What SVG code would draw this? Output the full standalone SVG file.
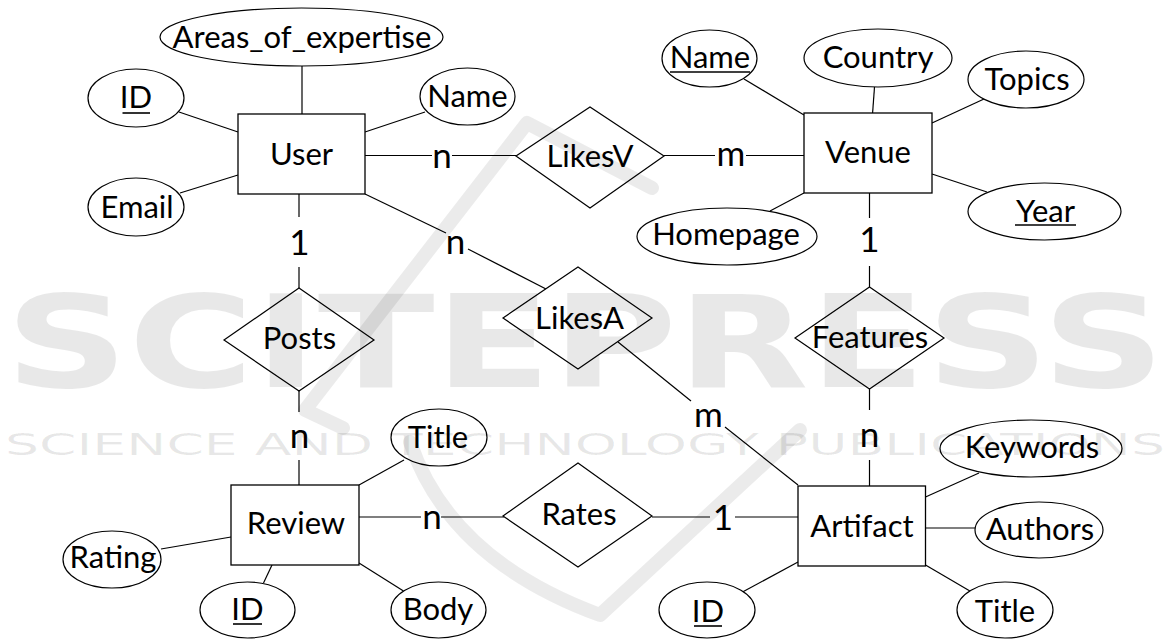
<svg xmlns="http://www.w3.org/2000/svg" width="1169" height="640" viewBox="0 0 1169 640">
  <style>
    .ent { fill: #fff; stroke: #000; stroke-width: 1.3; }
    .att { fill: #fff; stroke: #000; stroke-width: 1.2; }
    .rel { fill: #fff; stroke: #000; stroke-width: 1.2; }
    .lbl { font-family: Lato, "Liberation Sans", sans-serif; font-size: 31px; fill: #000; text-anchor: middle; }
    .card { font-family: Lato, "Liberation Sans", sans-serif; font-size: 35px; fill: #000; text-anchor: middle; }
    .wire { stroke: #000; stroke-width: 1.2; fill: none; }
    .key { stroke: #000; stroke-width: 1.6; }
    .wm { fill: #000; fill-opacity: 0.09; }
    .wmline { fill: none; stroke: #000; stroke-opacity: 0.08; stroke-linecap: round; stroke-linejoin: round; }
  </style>

  <rect width="1169" height="640" fill="#fff"/>

  <!-- connectors -->
  <g id="connectors" class="wire">
    <!-- User attributes -->
    <line x1="302" y1="66" x2="302" y2="114"/>
    <line x1="179" y1="112" x2="238" y2="132"/>
    <line x1="365" y1="132" x2="425" y2="112"/>
    <line x1="238" y1="175" x2="180" y2="193"/>
    <!-- User - LikesV - Venue -->
    <line x1="365" y1="155.5" x2="432" y2="155.5"/>
    <line x1="452" y1="155.5" x2="516" y2="155.5"/>
    <line x1="664" y1="155.5" x2="715" y2="155.5"/>
    <line x1="746" y1="155.5" x2="804" y2="155.5"/>
    <!-- User - Posts - Review -->
    <line x1="299" y1="194" x2="299" y2="217"/>
    <line x1="299" y1="267" x2="299" y2="288"/>
    <line x1="299" y1="391" x2="299" y2="412"/>
    <line x1="299" y1="460" x2="299" y2="485"/>
    <!-- User - LikesA - Artifact -->
    <line x1="365" y1="194" x2="446" y2="233"/>
    <line x1="468" y1="249" x2="546" y2="289"/>
    <line x1="618" y1="342" x2="691" y2="401"/>
    <line x1="725" y1="427" x2="798" y2="485"/>
    <!-- Venue attributes -->
    <line x1="744" y1="79" x2="804" y2="115"/>
    <line x1="874.5" y1="87" x2="872.6" y2="113"/>
    <line x1="932" y1="123" x2="984" y2="99"/>
    <line x1="932" y1="174" x2="987" y2="192"/>
    <line x1="804" y1="193" x2="770" y2="211"/>
    <!-- Venue - Features - Artifact -->
    <line x1="869.5" y1="193" x2="869.5" y2="218"/>
    <line x1="869.5" y1="266" x2="869.5" y2="287"/>
    <line x1="869.5" y1="389" x2="869.5" y2="410"/>
    <line x1="869.5" y1="460" x2="869.5" y2="486"/>
    <!-- Review attributes -->
    <line x1="359" y1="485" x2="404" y2="460"/>
    <line x1="161" y1="549" x2="231" y2="537"/>
    <line x1="272" y1="565" x2="263.5" y2="583"/>
    <line x1="359" y1="563" x2="403.5" y2="591"/>
    <!-- Review - Rates - Artifact -->
    <line x1="359" y1="517" x2="421" y2="517"/>
    <line x1="441" y1="517" x2="504" y2="517"/>
    <line x1="652" y1="517" x2="710" y2="517"/>
    <line x1="735" y1="517" x2="798" y2="517"/>
    <!-- Artifact attributes -->
    <line x1="925.5" y1="497" x2="979" y2="473"/>
    <line x1="925.5" y1="528" x2="975.5" y2="528"/>
    <line x1="925.5" y1="565" x2="971.6" y2="592"/>
    <line x1="798" y1="562" x2="742.5" y2="592"/>
  </g>

  <!-- cardinalities -->
  <g id="cardinalities">
    <text class="card" x="442" y="168">n</text>
    <text class="card" x="731" y="166">m</text>
    <text class="card" x="299.5" y="255">1</text>
    <text class="card" x="455.5" y="254">n</text>
    <text class="card" x="869.5" y="252">1</text>
    <text class="card" x="299.5" y="448">n</text>
    <text class="card" x="708.5" y="427">m</text>
    <text class="card" x="869.5" y="447">n</text>
    <text class="card" x="432" y="529">n</text>
    <text class="card" x="723" y="530">1</text>
  </g>

  <!-- entities -->
  <g id="user">
    <rect class="ent" x="238" y="114" width="127" height="80"/>
    <text class="lbl" x="301.5" y="165">User</text>
  </g>
  <g id="venue">
    <rect class="ent" x="804" y="113" width="128" height="80"/>
    <text class="lbl" x="868" y="163">Venue</text>
  </g>
  <g id="review">
    <rect class="ent" x="231" y="485" width="128" height="80"/>
    <text class="lbl" x="296" y="534">Review</text>
  </g>
  <g id="artifact">
    <rect class="ent" x="798" y="486" width="127.5" height="80"/>
    <text class="lbl" x="862" y="537">Artifact</text>
  </g>

  <!-- relationships -->
  <g id="likesv">
    <polygon class="rel" points="516,156 590,107 664,156 590,208"/>
    <text class="lbl" x="590" y="167">LikesV</text>
  </g>
  <g id="posts">
    <polygon class="rel" points="224,340 299,288 374,340 299,391"/>
    <text class="lbl" x="299.5" y="349">Posts</text>
  </g>
  <g id="likesa">
    <polygon class="rel" points="503,318 578,267 652,318 578,369"/>
    <text class="lbl" x="579.5" y="329">LikesA</text>
  </g>
  <g id="features">
    <polygon class="rel" points="795,338 869.5,287 944,338 869.5,389"/>
    <text class="lbl" x="870" y="348">Features</text>
  </g>
  <g id="rates">
    <polygon class="rel" points="503,516 578,463 652,516 578,567"/>
    <text class="lbl" x="579" y="525">Rates</text>
  </g>

  <!-- User attributes -->
  <g id="user-areas">
    <ellipse class="att" cx="301.5" cy="37" rx="141.5" ry="29"/>
    <text class="lbl" x="302" y="48">Areas_of_expertise</text>
  </g>
  <g id="user-id">
    <ellipse class="att" cx="136" cy="98" rx="48" ry="29"/>
    <text class="lbl" x="136" y="108">ID</text>
    <line class="key" x1="122.5" y1="113" x2="150" y2="113"/>
  </g>
  <g id="user-name">
    <ellipse class="att" cx="467.5" cy="96.5" rx="47.5" ry="28.5"/>
    <text class="lbl" x="467.5" y="107">Name</text>
  </g>
  <g id="user-email">
    <ellipse class="att" cx="136" cy="207" rx="48" ry="29"/>
    <text class="lbl" x="137" y="218">Email</text>
  </g>

  <!-- Venue attributes -->
  <g id="venue-name">
    <ellipse class="att" cx="709.5" cy="58.5" rx="47.5" ry="28.5"/>
    <text class="lbl" x="710" y="68">Name</text>
    <line class="key" x1="670" y1="72" x2="750" y2="72"/>
  </g>
  <g id="venue-country">
    <ellipse class="att" cx="878" cy="58" rx="74" ry="29"/>
    <text class="lbl" x="878" y="68">Country</text>
  </g>
  <g id="venue-topics">
    <ellipse class="att" cx="1026" cy="79.5" rx="58" ry="28.5"/>
    <text class="lbl" x="1027" y="90">Topics</text>
  </g>
  <g id="venue-year">
    <ellipse class="att" cx="1044.5" cy="211.5" rx="76.5" ry="28.5"/>
    <text class="lbl" x="1045.5" y="222">Year</text>
    <line class="key" x1="1015" y1="225" x2="1076" y2="225"/>
  </g>
  <g id="venue-homepage">
    <ellipse class="att" cx="727" cy="236.5" rx="90" ry="28.5"/>
    <text class="lbl" x="726" y="245">Homepage</text>
  </g>

  <!-- Review attributes -->
  <g id="review-title">
    <ellipse class="att" cx="439" cy="437.5" rx="48" ry="28.5"/>
    <text class="lbl" x="438" y="448">Title</text>
  </g>
  <g id="review-rating">
    <ellipse class="att" cx="112" cy="559.5" rx="49" ry="28.5"/>
    <text class="lbl" x="113" y="568">Rating</text>
  </g>
  <g id="review-id">
    <ellipse class="att" cx="247.5" cy="610" rx="47.5" ry="28"/>
    <text class="lbl" x="247.5" y="620">ID</text>
    <line class="key" x1="233" y1="624" x2="262" y2="624"/>
  </g>
  <g id="review-body">
    <ellipse class="att" cx="438.5" cy="610" rx="47.5" ry="28"/>
    <text class="lbl" x="438" y="620">Body</text>
  </g>

  <!-- Artifact attributes -->
  <g id="artifact-keywords">
    <ellipse class="att" cx="1031" cy="448.5" rx="91" ry="28.5"/>
    <text class="lbl" x="1032" y="458">Keywords</text>
  </g>
  <g id="artifact-authors">
    <ellipse class="att" cx="1039" cy="530" rx="64" ry="28"/>
    <text class="lbl" x="1040" y="540">Authors</text>
  </g>
  <g id="artifact-title">
    <ellipse class="att" cx="1005" cy="610" rx="48" ry="28"/>
    <text class="lbl" x="1005" y="622">Title</text>
  </g>
  <g id="artifact-id">
    <ellipse class="att" cx="707" cy="610" rx="48" ry="28"/>
    <text class="lbl" x="708" y="622">ID</text>
    <line class="key" x1="694" y1="626" x2="722" y2="626"/>
  </g>

  <!-- publisher watermark, laid over the drawing -->
  <g id="watermark">
    <text class="wm" x="5" y="387" font-family="'DejaVu Sans', sans-serif" font-weight="bold" font-size="129" textLength="1160" lengthAdjust="spacingAndGlyphs">SCITEPRESS</text>
    <text class="wm" x="5" y="455" font-family="'DejaVu Sans', sans-serif" font-size="30" textLength="1160" lengthAdjust="spacingAndGlyphs">SCIENCE AND TECHNOLOGY PUBLICATIONS</text>
    <path class="wmline" stroke-width="14" d="M343,428 L305,410 L527,123 L652,188"/>
    <path class="wmline" stroke-width="14" d="M410,442 Q450,560 600,615 L800,430"/>
  </g>
</svg>
